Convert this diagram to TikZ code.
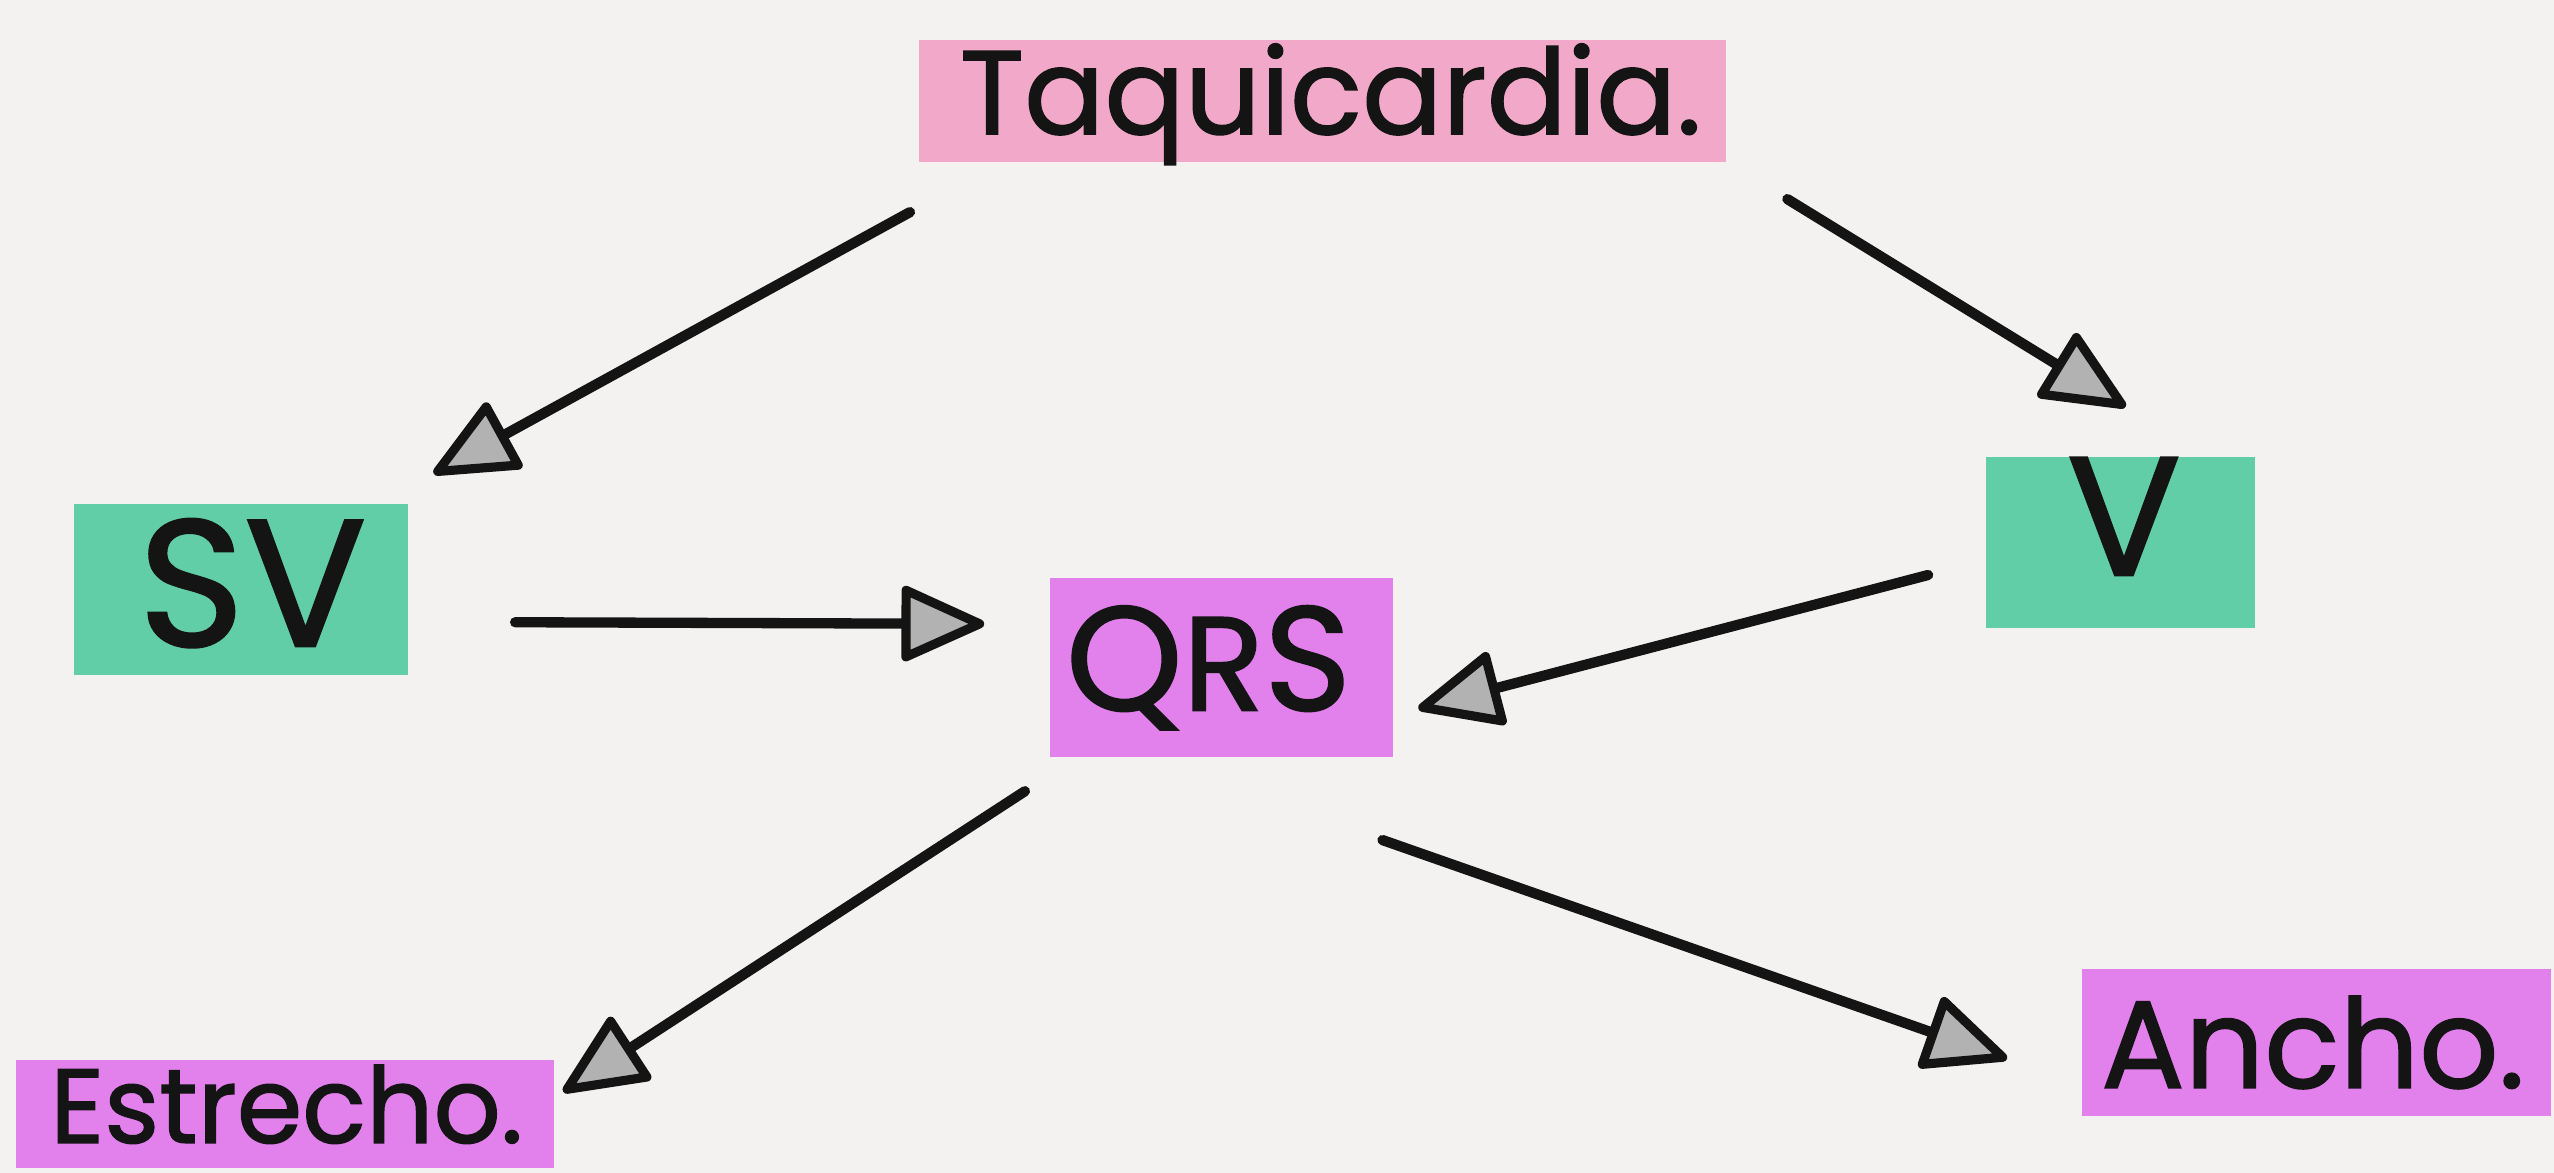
\documentclass[tikz,border=0pt]{standalone}
\usepackage{fontspec}
\setmainfont{Poppins}[FakeBold=1.3]
\usetikzlibrary{arrows.meta,calc}
\definecolor{paper}{RGB}{243,242,240}
\definecolor{hpink}{RGB}{242,168,200}
\definecolor{hgreen}{RGB}{98,206,168}
\definecolor{hmag}{RGB}{226,128,236}
\definecolor{ink}{RGB}{20,20,20}
\begin{document}
\begin{tikzpicture}[x=0.01cm,y=-0.01cm,
  hl/.style={inner sep=0pt, draw=none},
  lbl/.style={inner sep=0pt, text=ink},
  conn/.style={draw=ink, line width=1.8pt, line cap=round, line join=round,
    -{Triangle[length=0.55cm, width=0.48cm, fill=gray!60, line width=1.6pt, round]}}]
\useasboundingbox (0,0) rectangle (1568,720);
\fill[paper] (0,0) rectangle (1568,720);
% highlights
\node[hl, fill=hpink, minimum width=4.95cm, minimum height=0.75cm] (htaq) at (812,62) {};
\node[hl, fill=hgreen, minimum width=2.05cm, minimum height=1.05cm] (hsv) at (148,362) {};
\node[hl, fill=hgreen, minimum width=1.65cm, minimum height=1.05cm] (hv) at (1302,333) {};
\node[hl, fill=hmag, minimum width=2.10cm, minimum height=1.10cm] (hqrs) at (750,410) {};
\node[hl, fill=hmag, minimum width=3.30cm, minimum height=0.66cm] (hest) at (175,684) {};
\node[hl, fill=hmag, minimum width=2.88cm, minimum height=0.90cm] (hanc) at (1422,640) {};
% labels
\node[lbl] (taq) at (817,64) {\resizebox{4.55cm}{!}{Taquicardia.}};
\node[lbl] (sv) at (155,358) {\resizebox{1.40cm}{!}{SV}};
\node[lbl] (v) at (1304,317) {\resizebox{0.70cm}{!}{V}};
\node[lbl] (qrs) at (742,410) {\resizebox{1.75cm}{!}{Q{\small R}S}};
\node[lbl] (est) at (176,678) {\resizebox{2.90cm}{!}{Estrecho.}};
\node[lbl] (anc) at (1420,640) {\resizebox{2.60cm}{!}{Ancho.}};
% connectors
\draw[conn] ($(htaq.south west)+(-5,30)$) -- ($(hsv.north east)+(15,-18)$);
\draw[conn] ($(htaq.south east)+(37,22)$) -- ($(hv.north)+(3,-30)$);
\draw[conn] ($(hsv.east)+(65,20)$) -- ($(hqrs.west)+(-40,-27)$);
\draw[conn] ($(hv.west)+(-35,20)$) -- ($(hqrs.east)+(15,25)$);
\draw[conn] ($(hqrs.south west)+(-15,20)$) -- ($(hest.north east)+(5,20)$);
\draw[conn] ($(hqrs.south east)+(-7,50)$) -- ($(hanc.west)+(-45,10)$);
\end{tikzpicture}
\end{document}
